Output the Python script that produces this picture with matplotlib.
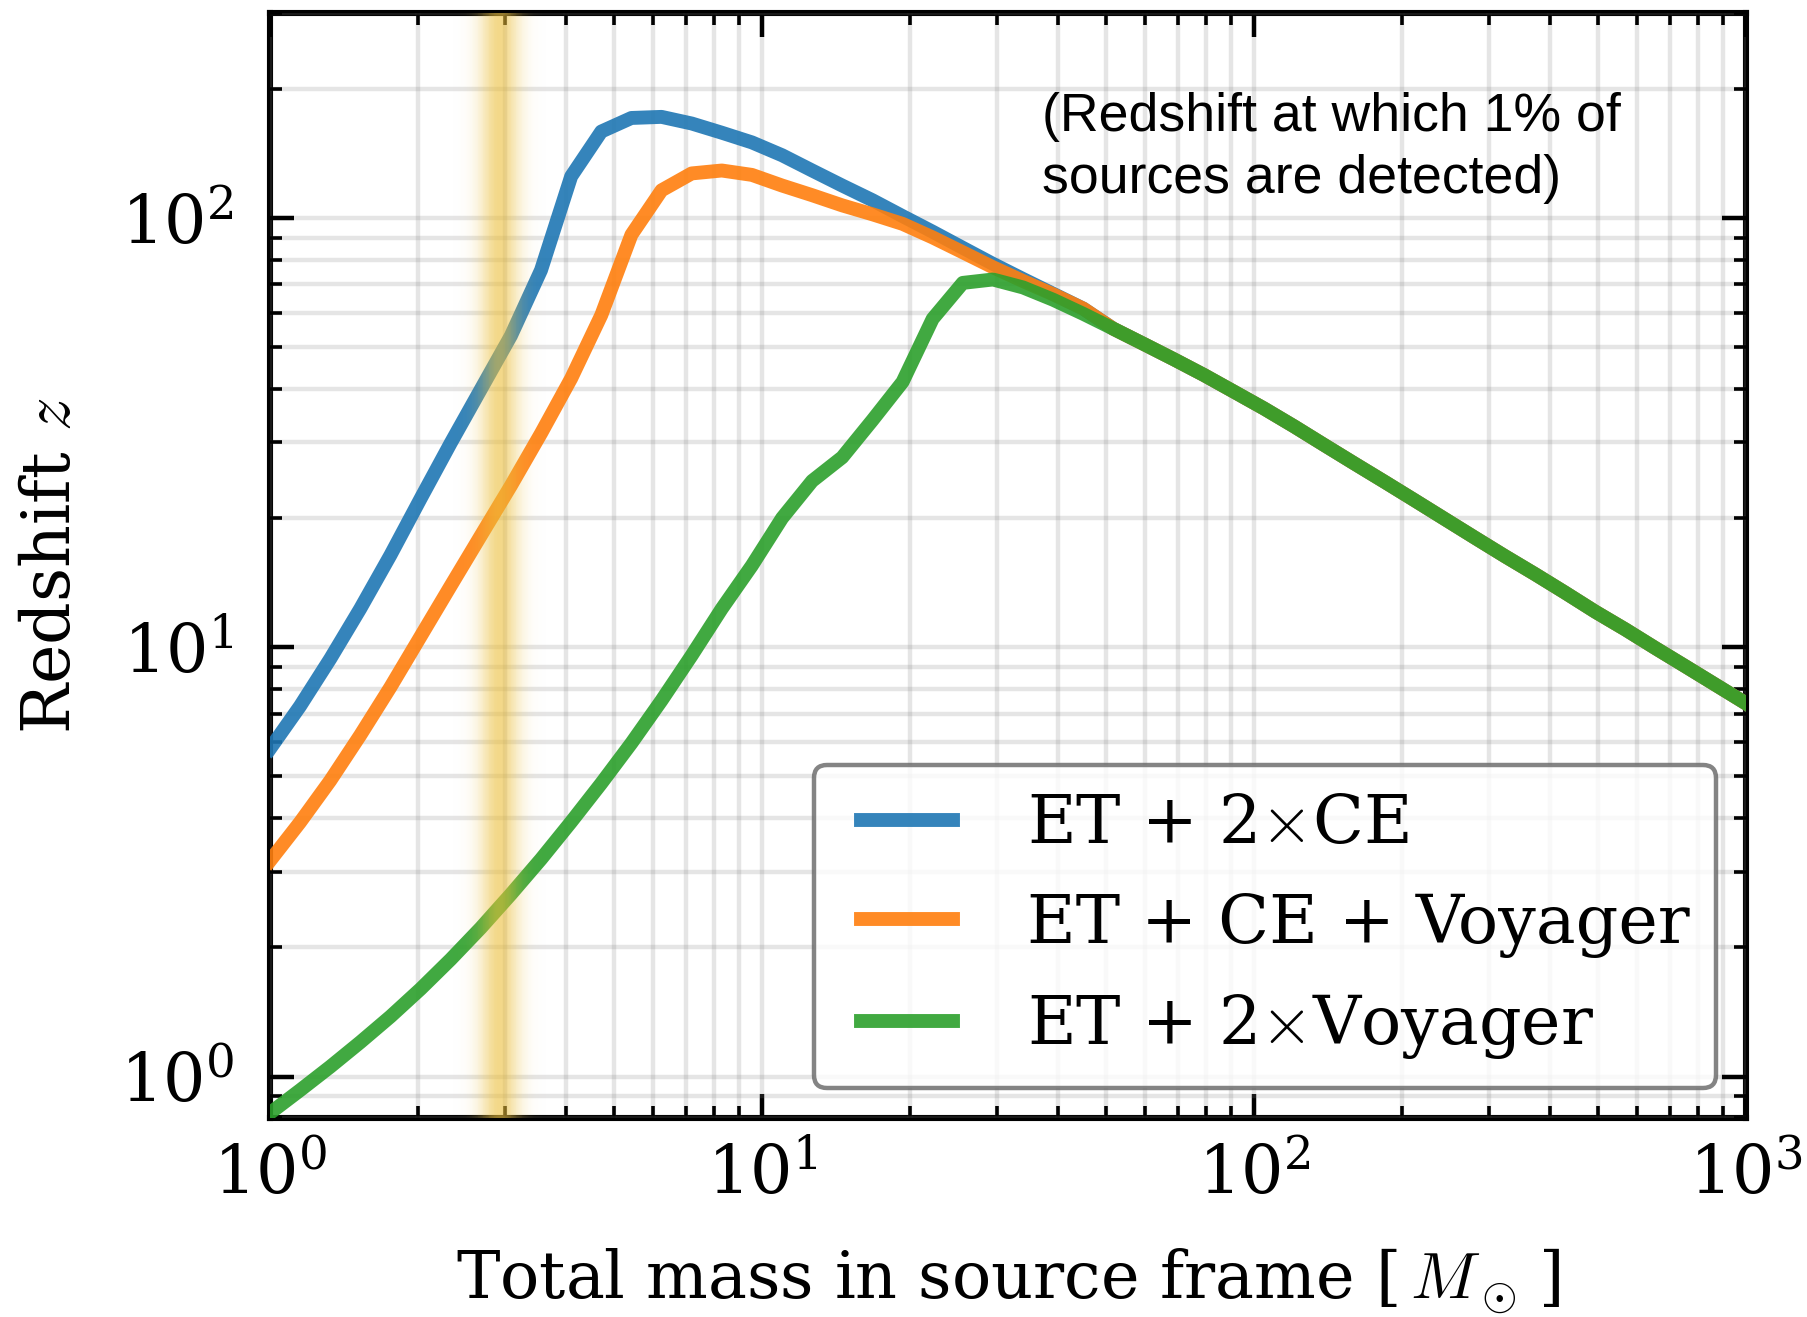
import numpy as np
import matplotlib
matplotlib.use('Agg')
import matplotlib.pyplot as plt
from matplotlib.lines import Line2D
from matplotlib.legend_handler import HandlerLine2D

# fonts: serif text, computer-modern style maths
plt.rcParams['font.family'] = 'serif'
plt.rcParams['font.serif'] = ['DejaVu Serif']
plt.rcParams['mathtext.fontset'] = 'cm'

# total mass in source frame [Msun], log-spaced samples
mass = [1.0, 1.151, 1.326, 1.526, 1.758, 2.024, 2.330, 2.683, 3.089, 3.556,
        4.095, 4.715, 5.429, 6.251, 7.197, 8.286, 9.541, 10.99, 12.65, 14.56,
        16.77, 19.31, 22.23, 25.60, 29.47, 33.93, 39.07, 44.99, 51.80, 59.64,
        68.66, 79.06, 91.03, 104.8, 120.7, 138.9, 160.0, 184.2, 212.1, 244.2,
        281.2, 323.7, 372.8, 429.2, 494.2, 569.0, 655.1, 754.3, 868.5, 1000.0]

# redshift at which 1% of sources are detected
z_et_2ce = [5.8, 7.29, 9.40, 12.3, 16.4, 22.2, 29.9, 39.9, 53.2, 75.6,
            125, 159, 171, 172, 166, 158, 150, 140, 129, 119,
            110, 101, 92.9, 85.2, 78.2, 72.1, 66.6, 61.5, 55.2, 50.9,
            46.9, 43.1, 39.4, 36.0, 32.7, 29.6, 26.8, 24.3, 22.0, 19.9,
            18.0, 16.3, 14.8, 13.4, 12.1, 11.0, 9.95, 9.02, 8.17, 7.40]
z_et_ce_voy = [3.18, 3.91, 4.89, 6.24, 8.08, 10.6, 13.9, 18.2, 23.8, 31.5,
               42.3, 59.4, 91.4, 116, 127, 129, 126, 119, 113, 107,
               102, 96.9, 90.1, 83.2, 76.8, 71.3, 66.4, 61.5, 55.2, 50.9,
               46.9, 43.1, 39.4, 36.0, 32.7, 29.6, 26.8, 24.3, 22.0, 19.9,
               18.0, 16.3, 14.8, 13.4, 12.1, 11.0, 9.95, 9.02, 8.17, 7.40]
z_et_2voy = [0.822, 0.929, 1.054, 1.202, 1.380, 1.600, 1.875, 2.22, 2.66, 3.21,
             3.92, 4.82, 5.98, 7.52, 9.57, 12.3, 15.5, 20.0, 24.4, 27.7,
             33.8, 41.5, 58.2, 70.6, 71.9, 68.9, 64.5, 59.8, 55.2, 50.9,
             46.9, 43.1, 39.4, 36.0, 32.7, 29.6, 26.8, 24.3, 22.0, 19.9,
             18.0, 16.3, 14.8, 13.4, 12.1, 11.0, 9.95, 9.02, 8.17, 7.40]

labels = ['ET + 2$\\times$CE', 'ET + CE + Voyager', 'ET + 2$\\times$Voyager']
colors = ['tab:blue', 'tab:orange', 'tab:green']

fig = plt.figure(figsize=(9.035, 6.585), dpi=200)
ax = fig.add_axes([0.1494, 0.151, 0.9662 - 0.1494, 0.990 - 0.151])

for z, lab, c in zip([z_et_2ce, z_et_ce_voy, z_et_2voy], labels, colors):
    ax.plot(mass, z, color=c, lw=5, alpha=0.9, label=lab, zorder=3)

# soft yellow band around binary neutron star masses
centre, sigma = np.log10(2.93), 0.028
edges = np.linspace(np.log10(2.3), np.log10(3.7), 121)
for a, b in zip(edges[:-1], edges[1:]):
    m = 0.5 * (a + b)
    al = 0.6 * np.exp(-0.5 * ((m - centre) / sigma) ** 2)
    ax.axvspan(10 ** a, 10 ** b, color='#ebbe3a', alpha=al, lw=0,
               antialiased=False, zorder=4)

ax.set_xscale('log')
ax.set_yscale('log')
ax.set_xlim(1, 1000)
ax.set_ylim(0.8, 300)

ax.grid(True, which='both', color='gray', alpha=0.2, lw=1.6)
ax.set_axisbelow(False)

ax.tick_params(which='both', direction='in', top=True, right=True)
ax.tick_params(which='major', length=8.6, width=1.6)
ax.tick_params(which='minor', length=4.3, width=1.3)
ax.tick_params(axis='x', which='major', pad=9, labelsize=24)
ax.tick_params(axis='y', which='major', pad=13, labelsize=24)
for s in ax.spines.values():
    s.set_linewidth(2.2)

ax.set_xlabel(r'Total mass in source frame [$\,M_\odot\,$]', fontsize=23.5, labelpad=14)
ax.set_ylabel(r'Redshift $z$', fontsize=24, labelpad=13)

ax.text(0.523, 0.929, '(Redshift at which 1% of\nsources are detected)',
        transform=ax.transAxes, ha='left', va='top', fontsize=19.3,
        linespacing=1.32, family='Liberation Sans', zorder=6)

leg = ax.legend(loc='lower right', fontsize=24, handlelength=1.68,
                handletextpad=1.11, labelspacing=0.52, borderpad=0.4,
                borderaxespad=0.45, fancybox=True, framealpha=0.8,
                edgecolor='0.4', handler_map={Line2D: HandlerLine2D(xpad=0.3)})
leg.get_frame().set_linewidth(1.6)
leg.set_zorder(6)

fig.savefig('out.png', dpi=200)
